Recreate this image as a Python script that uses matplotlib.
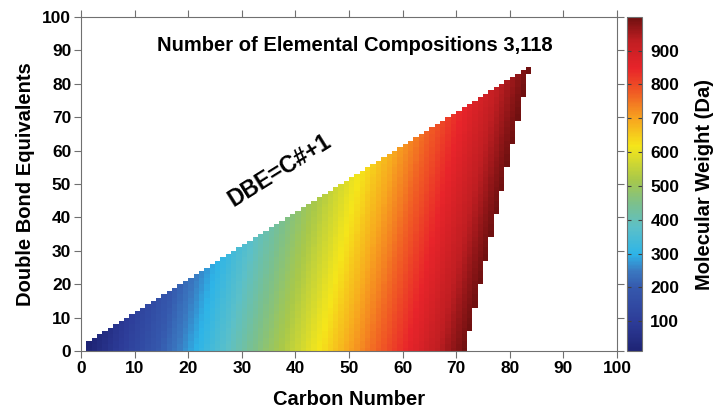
import numpy as np
import matplotlib
matplotlib.use("Agg")
import matplotlib.pyplot as plt
from matplotlib.colors import LinearSegmentedColormap

plt.rcParams['font.family'] = ['Liberation Sans', 'DejaVu Sans']
plt.rcParams['font.weight'] = 'bold'

# hydrocarbon compositions CcHh, DBE = c - h/2 + 1, kept below the mass cut
carbon_numbers = np.arange(1, 84)
dbe_values = np.arange(0, 86)
mass_c = 12.000
mass_h = 1.008
mw_cut = 1000.0
n_compositions = "3,118"

# colour ramp anchors (Da -> colour)
ramp_mw = [16, 100, 200, 250, 300, 380, 450, 520, 620, 700, 780, 850, 930, 1000]
ramp_colors = ['#1e2475', '#2d3c98', '#3558ad', '#3a78c0', '#2db4e8', '#5cc0c8',
               '#7cc08c', '#a8c84a', '#f5e61a', '#f7a51f', '#f05a24', '#e8242a',
               '#c01e22', '#701010']

C, D = np.meshgrid(carbon_numbers, dbe_values)
H = 2 * (C - D + 1)
MW = mass_c * C + mass_h * H
valid = (H >= 0) & (MW <= mw_cut)
Z = np.ma.masked_where(~valid, MW)

vmin, vmax = Z.min(), Z.max()
pos = [(m - ramp_mw[0]) / (ramp_mw[-1] - ramp_mw[0]) for m in ramp_mw]
cmap = LinearSegmentedColormap.from_list('mw', list(zip(pos, ramp_colors)))

fig = plt.figure(figsize=(7.16, 4.09), dpi=100)
ax = fig.add_axes([81 / 716, 1 - 351 / 409, 536 / 716, 334 / 409])
cax = fig.add_axes([627 / 716, 1 - 351 / 409, 15 / 716, 334 / 409])

# cells span [c, c+1] x [dbe, dbe+1]
x_edges = np.append(carbon_numbers, carbon_numbers[-1] + 1)
y_edges = np.append(dbe_values, dbe_values[-1] + 1)
mesh = ax.pcolormesh(x_edges, y_edges, Z, cmap=cmap, vmin=vmin, vmax=vmax,
                     shading='flat', rasterized=True)

ax.set_xlim(0, 100)
ax.set_ylim(0, 100)
ax.set_xticks(np.arange(0, 101, 10))
ax.set_yticks(np.arange(0, 101, 10))
ax.tick_params(direction='out', length=5, width=0.8, color='#707070',
               labelsize=12.5, top=True, right=True, pad=2)
for sp in ax.spines.values():
    sp.set_color('#707070')
    sp.set_linewidth(0.8)

ax.set_xlabel('Carbon Number', fontsize=14.5, fontweight='bold', labelpad=10)
ax.set_ylabel('Double Bond Equivalents', fontsize=14.5, fontweight='bold', labelpad=5)

ax.text(51, 91.6, 'Number of Elemental Compositions ' + n_compositions,
        ha='center', va='center', fontsize=14.5, fontweight='bold')
ax.text(37, 54, 'DBE=C#+1', ha='center', va='center', rotation=32,
        fontsize=16.5, fontweight='bold', rotation_mode='anchor')

cb = fig.colorbar(mesh, cax=cax)
cb.set_ticks(np.arange(100, 1000, 100))
cb.outline.set_edgecolor('#707070')
cb.outline.set_linewidth(0.8)
cax.tick_params(direction='in', length=3, width=0.8, color='#404040',
                labelsize=12.5, left=True, right=True, pad=6)
cb.set_label('Molecular Weight (Da)', fontsize=14.5, fontweight='bold', labelpad=11)

fig.savefig('out.png', dpi=100)
